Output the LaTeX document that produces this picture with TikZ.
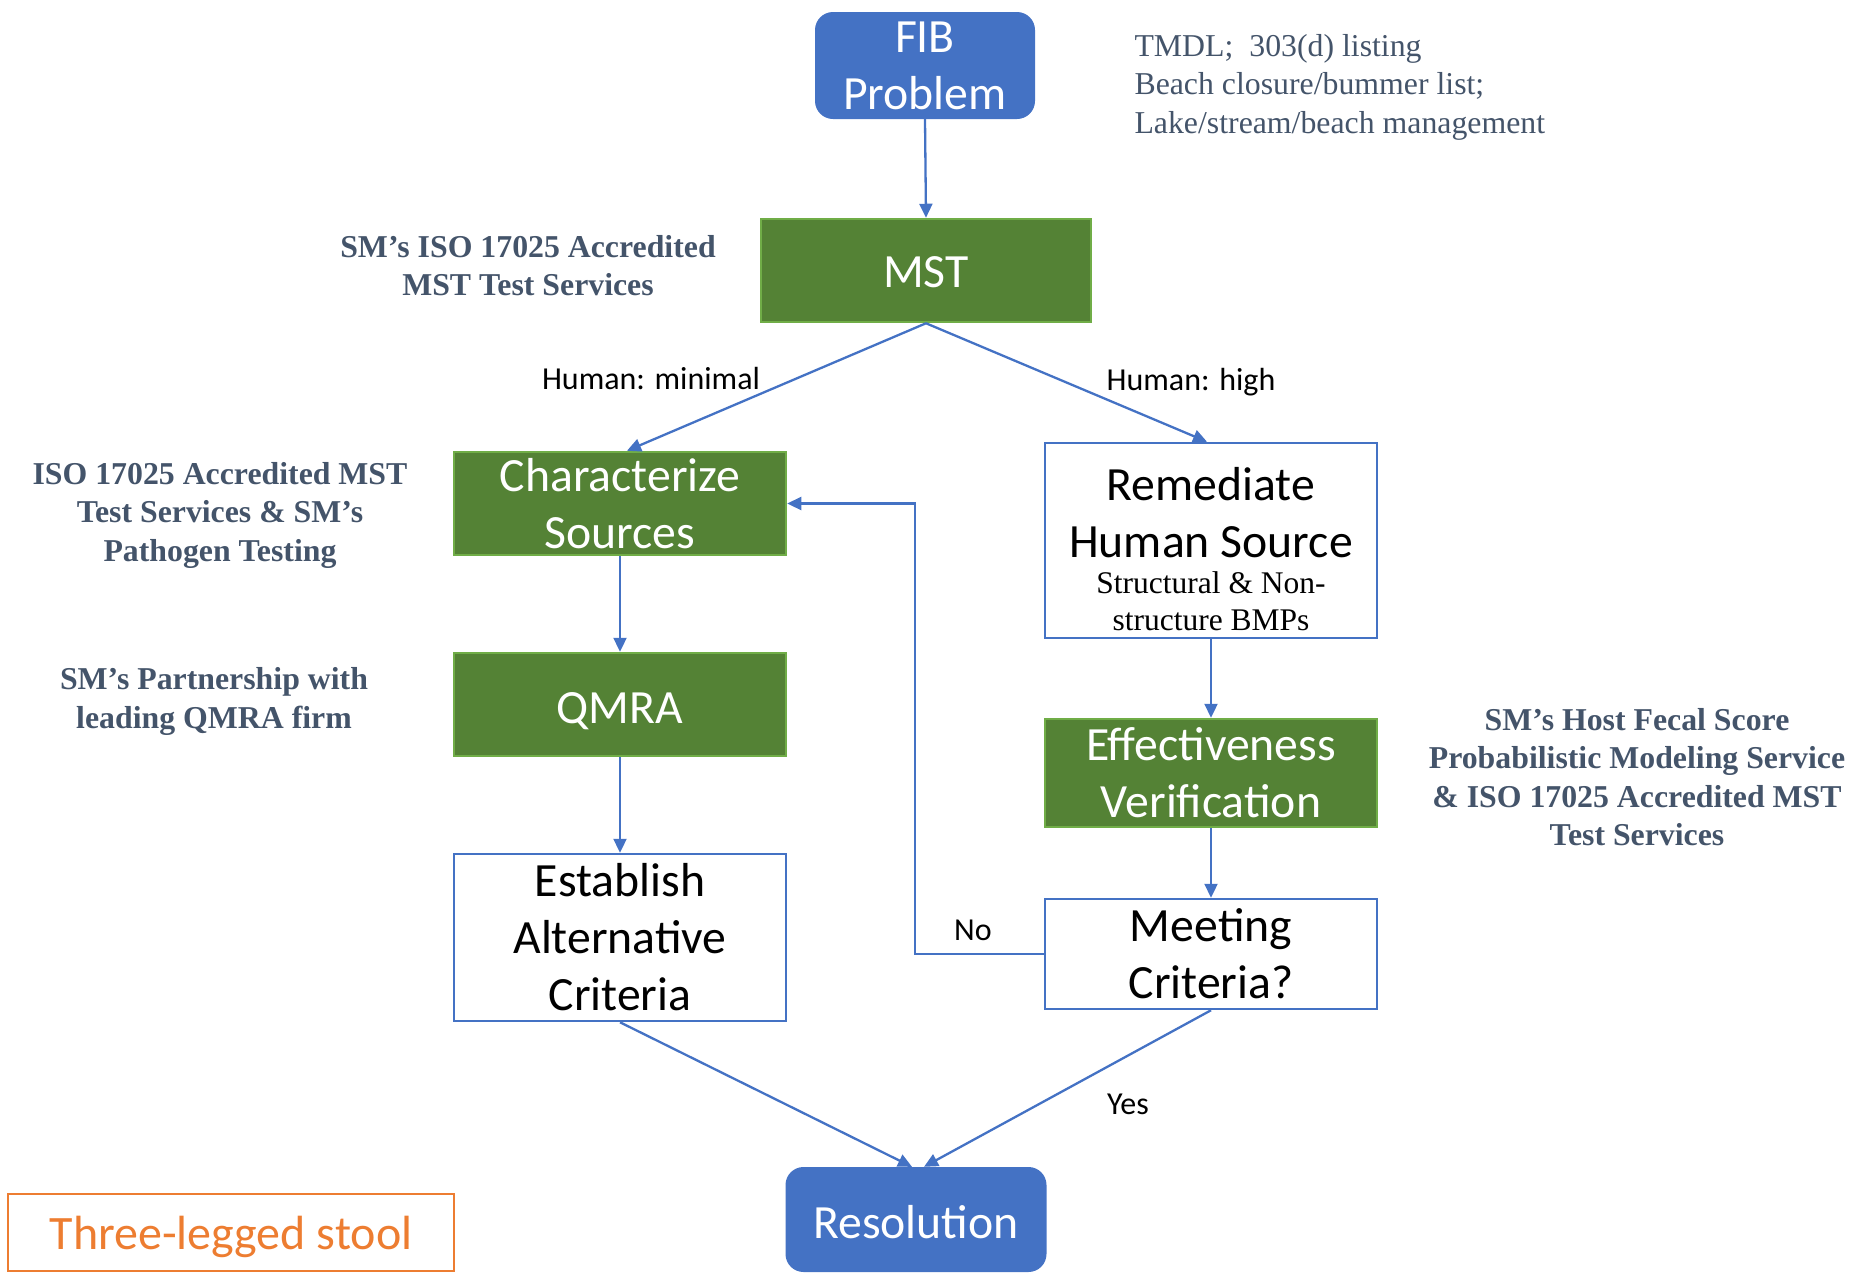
\documentclass[tikz,border=0pt]{standalone}
\usepackage{fontspec}
\setmainfont{Liberation Serif}
\newfontfamily\calibri{Carlito}
\newfontfamily\timesf{Liberation Serif}
\usetikzlibrary{arrows.meta}
\definecolor{accblue}{HTML}{4472C4}
\definecolor{accgreen}{HTML}{548235}
\definecolor{greenedge}{HTML}{70AD47}
\definecolor{notecol}{HTML}{44546A}
\definecolor{accorange}{HTML}{ED7D31}
\tikzset{
  bigtxt/.style={font=\calibri\fontsize{47.7}{57}\selectfont, align=center},
  bluebox/.style={bigtxt, rounded corners=18pt, fill=accblue, draw=none, text=white, inner sep=0pt},
  greenbox/.style={bigtxt, fill=accgreen, draw=greenedge, line width=2.5pt, text=white, inner sep=0pt, minimum width=332pt},
  whitebox/.style={bigtxt, draw=accblue, line width=2.5pt, fill=white, text=black, inner sep=0pt, minimum width=332pt},
  note/.style={font=\timesf\bfseries\fontsize{31.8}{38.5}\selectfont, text=notecol, align=center},
  lbl/.style={font=\calibri\fontsize{32}{38}\selectfont, text=black},
  conn/.style={draw=accblue, line width=2.3pt, -{Triangle[length=14pt,width=13pt]}}
}
\begin{document}
\begin{tikzpicture}[x=1pt,y=-1pt]
\useasboundingbox (0,0) rectangle (1864,1275);
% main nodes
\node[bluebox, minimum width=220pt, minimum height=107pt] (fib) at (925,65.5) {FIB\\Problem};
\node[greenbox, minimum width=330pt, minimum height=103pt] (mst) at (926,270.5) {\raisebox{-2pt}[\height][0pt]{MST}};
\node[greenbox, minimum height=103pt] (char) at (620,503.5) {Characterize\\Sources};
\node[whitebox, minimum height=195pt] (rem) at (1211,540.5) {};
\node[bigtxt, inner sep=0pt] (remtop) at (1211,513) {Remediate\\Human Source};
\node[font=\timesf\fontsize{31.5}{37}\selectfont, align=center, inner sep=0pt] (remsub) at (1211,601) {Structural \& Non-\\structure BMPs};
\node[greenbox, minimum height=103pt] (qmra) at (620,704.5) {\raisebox{-4pt}[\height][0pt]{QMRA}};
\node[greenbox, minimum height=108pt] (eff) at (1211,773) {Effectiveness\\Verification};
\node[whitebox, minimum height=167pt] (est) at (620,937.5) {Establish\\Alternative\\Criteria};
\node[whitebox, minimum height=110pt] (meet) at (1211,954) {Meeting\\Criteria?};
\node[bluebox, minimum width=261pt, minimum height=105pt] (res) at (916,1219.5) {\raisebox{-2pt}[\height][0pt]{Resolution}};
\node[draw=accorange, line width=2pt, text=accorange, font=\calibri\fontsize{48}{55}\selectfont, minimum width=446pt, minimum height=77pt, inner sep=0pt] (stool) at (231,1232.5) {\raisebox{0pt}[\height][0pt]{Three-legged stool}};
% notes
\node[note] (n1) at (528,265.5) {SM’s ISO 17025 Accredited\\MST Test Services};
\node[note] (n2) at (220,515) {ISO 17025 Accredited MST\\Test Services \& SM’s\\Pathogen Testing};
\node[note] (n3) at (214,701.5) {SM’s Partnership with\\leading QMRA firm};
\node[note] (n4) at (1637,777) {SM’s Host Fecal Score\\Probabilistic Modeling Service\\\& ISO 17025 Accredited MST\\Test Services};
\node[font=\timesf\fontsize{31.8}{38.5}\selectfont, text=notecol, align=left, anchor=west] (n5) at (1131,87) {TMDL;\ \ 303(d) listing\\Beach closure/bummer list;\\Lake/stream/beach management};
% labels
\node[lbl] (lmin) at (651,379) {Human: minimal};
\node[lbl] (lhigh) at (1191,382) {Human: high};
\node[lbl] (lno) at (973,930) {No};
\node[lbl] (lyes) at (1128,1104) {Yes};
% connectors
\coordinate (nocorner) at (915,954);
\draw[conn] (fib.south) -- (mst.north);
\draw[conn] (mst.south) -- ([xshift=7pt]char.north);
\draw[conn] (mst.south) -- ([xshift=-4pt]rem.north);
\draw[conn] (char.south) -- (qmra.north);
\draw[conn] (qmra.south) -- (est.north);
\draw[conn] (rem.south) -- (eff.north);
\draw[conn] (eff.south) -- (meet.north);
\draw[conn] (meet.west) -- (nocorner) |- (char.east);
\draw[conn] (est.south) -- ([xshift=-4pt]res.north);
\draw[conn] (meet.south) -- ([xshift=8pt]res.north);
\end{tikzpicture}
\end{document}
